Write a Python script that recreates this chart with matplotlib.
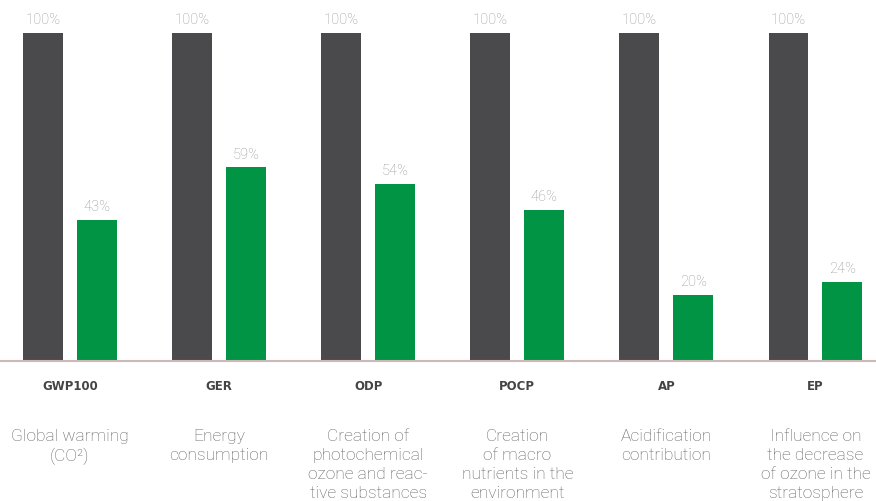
import matplotlib
matplotlib.use("Agg")
import matplotlib.pyplot as plt
import numpy as np

categories = ["GWP100", "GER", "ODP", "POCP", "AP", "EP"]
descriptions = [
    "Global warming\n(CO²)",
    "Energy\nconsumption",
    "Creation of\nphotochemical\nozone and reac-\ntive substances",
    "Creation\nof macro\nnutrients in the\nenvironment",
    "Acidification\ncontribution",
    "Influence on\nthe decrease\nof ozone in the\nstratosphere",
]
reference_values = [100, 100, 100, 100, 100, 100]
product_values = [43, 59, 54, 46, 20, 24]

dark = "#4a4a4c"
green = "#009444"

fig = plt.figure(figsize=(8.76, 5.02), dpi=100)
ax = fig.add_axes([0, 1 - 362 / 502, 1, 328 / 502])

x = np.arange(len(categories))
w = 0.268
off = 0.181
b1 = ax.bar(x - off, reference_values, width=w, color=dark)
b2 = ax.bar(x + off, product_values, width=w, color=green)

for bars, vals in ((b1, reference_values), (b2, product_values)):
    for rect, v in zip(bars, vals):
        ax.annotate(f"{v}%", (rect.get_x() + rect.get_width() / 2, v),
                    xytext=(0, 5), textcoords="offset points",
                    ha="center", va="bottom", fontsize=10.5,
                    color="#999999", family="Roboto", fontweight="light")

for xi, cat, desc in zip(x, categories, descriptions):
    ax.annotate(cat, (xi, 0), xytext=(0, -13), textcoords="offset points",
                ha="center", va="top", fontsize=8.5, fontweight="bold",
                color="#444444", family="DejaVu Sans", annotation_clip=False)
    ax.annotate(desc, (xi, 0), xytext=(0, -48), textcoords="offset points",
                ha="center", va="top", fontsize=12.5, color="#606060",
                family="Roboto", fontweight="light", linespacing=1.34,
                annotation_clip=False)

ax.set_xlim(-0.4695, 5.406)
ax.set_ylim(0, 100)
for s in ["top", "right", "left"]:
    ax.spines[s].set_visible(False)
ax.spines["bottom"].set_color("#c9b9b9")
ax.spines["bottom"].set_linewidth(1.5)
ax.set_xticks([])
ax.set_yticks([])

fig.savefig("out.png", dpi=100)
